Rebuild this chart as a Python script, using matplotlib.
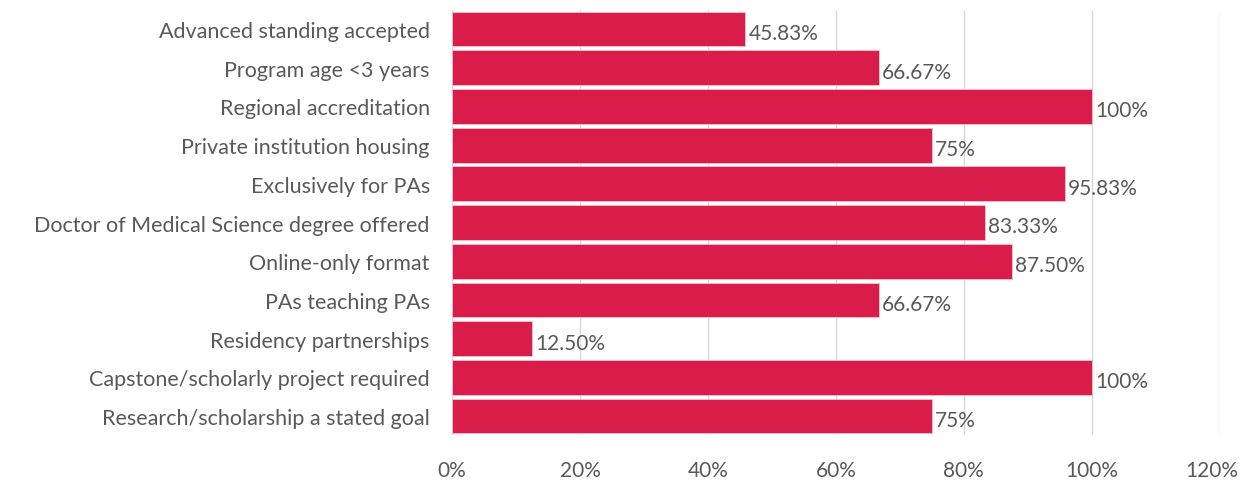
import matplotlib
matplotlib.use("Agg")
import matplotlib.pyplot as plt
import matplotlib.transforms as mtransforms
from matplotlib.ticker import FuncFormatter

plt.rcParams['font.family'] = ['Lato', 'DejaVu Sans']

categories = [
    "Advanced standing accepted",
    "Program age <3 years",
    "Regional accreditation",
    "Private institution housing",
    "Exclusively for PAs",
    "Doctor of Medical Science degree offered",
    "Online-only format",
    "PAs teaching PAs",
    "Residency partnerships",
    "Capstone/scholarly project required",
    "Research/scholarship a stated goal",
]
values = [45.83, 66.67, 100, 75, 95.83, 83.33, 87.50, 66.67, 12.50, 100, 75]
value_labels = ["45.83%", "66.67%", "100%", "75%", "95.83%", "83.33%",
                "87.50%", "66.67%", "12.50%", "100%", "75%"]

bar_color = "#DA1C4A"
text_color = "#595959"

fig = plt.figure(figsize=(12.42, 4.81), dpi=100)
ax = fig.add_axes([0.364, 0.0927, 0.618, 0.885])

y = list(range(len(categories)))
ax.barh(y, values, height=0.9, color=bar_color, edgecolor="#F2C4CF",
        linewidth=0.6, zorder=2)

for yi, v, lab in zip(y, values, value_labels):
    ax.text(v + 0.5, yi + 0.1, lab, va="center", ha="left",
            fontsize=15, color=text_color)

ax.set_xlim(0, 120)
ax.set_ylim(len(categories) - 0.5, -0.5)
ax.set_xticks(range(0, 121, 20))
ax.xaxis.set_major_formatter(FuncFormatter(lambda x, _: f"{int(x)}%"))
ax.set_yticks(y)
ax.set_yticklabels(categories)
ax.tick_params(axis="both", length=0, colors=text_color)
ax.tick_params(axis="x", labelsize=15, pad=18)
ax.tick_params(axis="y", labelsize=15.5, pad=16)
ax.grid(axis="x", color="#D9D9D9", linewidth=1, zorder=0)
for s in ax.spines.values():
    s.set_visible(False)

# keep the last tick label inside the figure edge
last = ax.get_xticklabels()[-1]
last.set_transform(last.get_transform() +
                   mtransforms.ScaledTranslation(-8 / 100, 0, fig.dpi_scale_trans))

fig.savefig("out.png", dpi=100)
